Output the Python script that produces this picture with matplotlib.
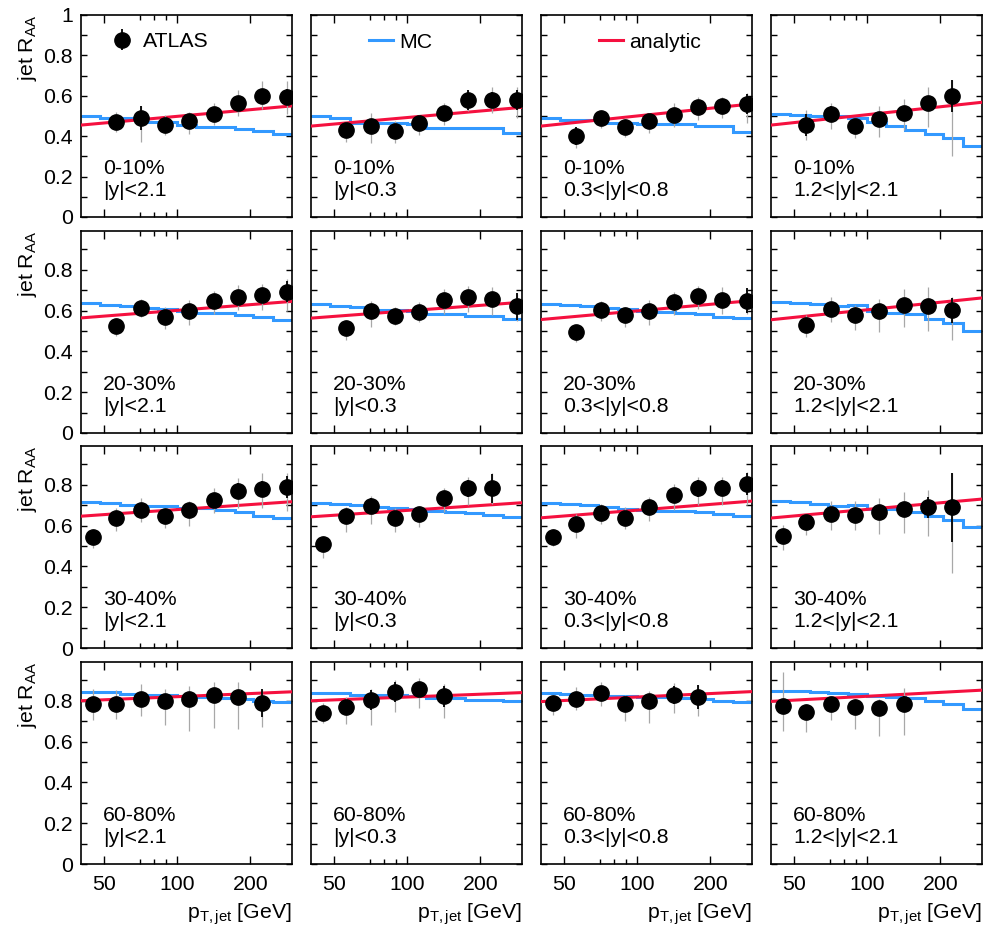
import matplotlib
matplotlib.use("Agg")
import matplotlib.pyplot as plt
from matplotlib.lines import Line2D
from matplotlib.ticker import FixedLocator, NullFormatter, FuncFormatter, MultipleLocator

plt.rcParams['font.family'] = ['Liberation Sans', 'DejaVu Sans']
plt.rcParams['mathtext.fontset'] = 'custom'
plt.rcParams['mathtext.rm'] = 'Liberation Sans'
plt.rcParams['mathtext.it'] = 'Liberation Sans:italic'

# ATLAS bin centres (GeV), first used bin per centrality row
PT = [45, 56, 71, 89, 112, 141, 178, 224, 282]
FIRST_BIN = [1, 1, 0, 0]

# MC histogram bin edges (GeV)
MC_EDGES = [40, 48, 58, 69, 83, 100, 119, 143, 172, 206, 248, 297]

# analytic curve is given at the two ends of the pT range
ANA_PT = [40, 297]

CENTRALITY = ['0-10%', '20-30%', '30-40%', '60-80%']
RAPIDITY = ['|y|<2.1', '|y|<0.3', '0.3<|y|<0.8', '1.2<|y|<2.1']

# ATLAS jet R_AA  [row = centrality][col = rapidity]
RAA = [
    [[0.47, 0.49, 0.455, 0.475, 0.51, 0.565, 0.60, 0.595],
     [0.43, 0.45, 0.425, 0.465, 0.513, 0.578, 0.58, 0.58],
     [0.40, 0.49, 0.448, 0.474, 0.505, 0.546, 0.55, 0.56],
     [0.455, 0.508, 0.45, 0.485, 0.516, 0.566, 0.60]],
    [[0.525, 0.613, 0.568, 0.60, 0.645, 0.666, 0.674, 0.693],
     [0.516, 0.60, 0.573, 0.595, 0.654, 0.665, 0.658, 0.621],
     [0.494, 0.605, 0.576, 0.598, 0.641, 0.67, 0.654, 0.649],
     [0.53, 0.608, 0.577, 0.596, 0.628, 0.621, 0.601]],
    [[0.545, 0.635, 0.676, 0.646, 0.674, 0.727, 0.769, 0.78, 0.789],
     [0.51, 0.646, 0.697, 0.635, 0.655, 0.737, 0.782, 0.782],
     [0.545, 0.607, 0.66, 0.639, 0.69, 0.752, 0.782, 0.783, 0.803],
     [0.547, 0.617, 0.658, 0.653, 0.667, 0.683, 0.689, 0.689]],
    [[0.784, 0.784, 0.811, 0.80, 0.811, 0.827, 0.82, 0.79],
     [0.739, 0.77, 0.803, 0.842, 0.858, 0.821],
     [0.788, 0.811, 0.84, 0.783, 0.80, 0.829, 0.819],
     [0.772, 0.746, 0.784, 0.77, 0.767, 0.784]],
]

STAT = [
    [[0.03, 0.06, 0.03, 0.03, 0.03, 0.03, 0.03, 0.04],
     [0.03, 0.03, 0.03, 0.03, 0.03, 0.05, 0.04, 0.05],
     [0.045, 0.03, 0.03, 0.03, 0.03, 0.03, 0.035, 0.05],
     [0.055, 0.04, 0.03, 0.03, 0.03, 0.03, 0.08]],
    [[0.03, 0.03, 0.03, 0.03, 0.03, 0.03, 0.03, 0.05],
     [0.03, 0.03, 0.03, 0.03, 0.03, 0.03, 0.03, 0.065],
     [0.03, 0.03, 0.03, 0.03, 0.03, 0.03, 0.03, 0.06],
     [0.03, 0.03, 0.03, 0.03, 0.03, 0.03, 0.06]],
    [[0.03, 0.03, 0.03, 0.03, 0.03, 0.03, 0.04, 0.04, 0.055],
     [0.03, 0.03, 0.04, 0.03, 0.03, 0.03, 0.04, 0.07],
     [0.03, 0.03, 0.03, 0.03, 0.03, 0.03, 0.04, 0.04, 0.055],
     [0.03, 0.03, 0.03, 0.03, 0.03, 0.03, 0.05, 0.168]],
    [[0.03, 0.03, 0.03, 0.03, 0.03, 0.03, 0.03, 0.07],
     [0.03, 0.03, 0.05, 0.05, 0.03, 0.05],
     [0.03, 0.03, 0.03, 0.03, 0.03, 0.045, 0.06],
     [0.03, 0.03, 0.03, 0.03, 0.03, 0.04]],
]

SYS_UP = [
    [[0.05, 0.06, 0.05, 0.045, 0.053, 0.066, 0.074, 0.078],
     [0.04, 0.063, 0.05, 0.041, 0.05, 0.053, 0.063, 0.063],
     [0.04, 0.04, 0.04, 0.04, 0.058, 0.05, 0.046, 0.053],
     [0.074, 0.054, 0.038, 0.064, 0.07, 0.08, 0.08]],
    [[0.04, 0.045, 0.05, 0.05, 0.052, 0.057, 0.057, 0.062],
     [0.037, 0.049, 0.044, 0.046, 0.052, 0.057, 0.057, 0.06],
     [0.035, 0.044, 0.04, 0.052, 0.05, 0.052, 0.06, 0.057],
     [0.046, 0.057, 0.052, 0.062, 0.08, 0.093, 0.065]],
    [[0.036, 0.052, 0.06, 0.04, 0.046, 0.057, 0.065, 0.078, 0.07],
     [0.038, 0.046, 0.047, 0.05, 0.04, 0.046, 0.057, 0.074],
     [0.036, 0.05, 0.044, 0.05, 0.05, 0.05, 0.057, 0.057, 0.062],
     [0.057, 0.036, 0.06, 0.065, 0.07, 0.082, 0.087, 0.168]],
    [[0.075, 0.07, 0.07, 0.06, 0.06, 0.065, 0.07, 0.065],
     [0.05, 0.05, 0.055, 0.06, 0.055, 0.06],
     [0.04, 0.055, 0.05, 0.045, 0.05, 0.06, 0.057],
     [0.17, 0.04, 0.04, 0.04, 0.04, 0.08]],
]

SYS_DN = [
    [[0.05, 0.12, 0.05, 0.063, 0.053, 0.066, 0.066, 0.087],
     [0.06, 0.086, 0.058, 0.058, 0.058, 0.054, 0.066, 0.09],
     [0.06, 0.05, 0.05, 0.058, 0.058, 0.066, 0.061, 0.096],
     [0.074, 0.07, 0.061, 0.087, 0.086, 0.12, 0.30]],
    [[0.05, 0.045, 0.057, 0.07, 0.062, 0.065, 0.073, 0.093],
     [0.06, 0.081, 0.046, 0.052, 0.07, 0.073, 0.081, 0.07],
     [0.05, 0.054, 0.057, 0.07, 0.065, 0.062, 0.07, 0.065],
     [0.06, 0.065, 0.073, 0.10, 0.11, 0.12, 0.146]],
    [[0.054, 0.062, 0.06, 0.057, 0.074, 0.065, 0.082, 0.093, 0.118],
     [0.07, 0.077, 0.087, 0.065, 0.06, 0.07, 0.082, 0.074],
     [0.046, 0.07, 0.054, 0.057, 0.07, 0.074, 0.082, 0.082, 0.10],
     [0.065, 0.062, 0.078, 0.074, 0.11, 0.118, 0.14, 0.32]],
    [[0.08, 0.075, 0.085, 0.12, 0.16, 0.16, 0.16, 0.12],
     [0.05, 0.085, 0.12, 0.095, 0.095, 0.105],
     [0.06, 0.055, 0.066, 0.082, 0.11, 0.087, 0.093],
     [0.12, 0.10, 0.08, 0.11, 0.14, 0.15]],
]

MC = [
    [[0.50, 0.49, 0.49, 0.47, 0.47, 0.455, 0.447, 0.447, 0.436, 0.427, 0.41],
     [0.50, 0.49, 0.465, 0.465, 0.465, 0.46, 0.44, 0.44, 0.44, 0.44, 0.415],
     [0.49, 0.48, 0.48, 0.465, 0.465, 0.46, 0.46, 0.46, 0.45, 0.45, 0.42],
     [0.51, 0.505, 0.50, 0.50, 0.49, 0.47, 0.45, 0.43, 0.41, 0.39, 0.35]],
    [[0.638, 0.625, 0.62, 0.615, 0.61, 0.60, 0.59, 0.59, 0.578, 0.567, 0.556],
     [0.633, 0.624, 0.616, 0.605, 0.605, 0.60, 0.585, 0.585, 0.575, 0.575, 0.56],
     [0.633, 0.625, 0.62, 0.615, 0.61, 0.60, 0.595, 0.59, 0.585, 0.57, 0.563],
     [0.644, 0.637, 0.633, 0.624, 0.628, 0.60, 0.59, 0.584, 0.56, 0.54, 0.502]],
    [[0.715, 0.709, 0.70, 0.695, 0.695, 0.685, 0.685, 0.675, 0.665, 0.646, 0.638],
     [0.712, 0.705, 0.70, 0.69, 0.685, 0.68, 0.67, 0.665, 0.66, 0.65, 0.642],
     [0.712, 0.705, 0.70, 0.69, 0.68, 0.675, 0.672, 0.67, 0.665, 0.655, 0.646],
     [0.719, 0.714, 0.708, 0.698, 0.703, 0.681, 0.681, 0.665, 0.646, 0.626, 0.593]],
    [[0.844, 0.841, 0.835, 0.83, 0.828, 0.825, 0.82, 0.815, 0.81, 0.80, 0.795],
     [0.84, 0.84, 0.83, 0.83, 0.83, 0.825, 0.815, 0.815, 0.805, 0.805, 0.797],
     [0.837, 0.832, 0.83, 0.825, 0.824, 0.82, 0.818, 0.815, 0.81, 0.80, 0.796],
     [0.846, 0.846, 0.841, 0.836, 0.833, 0.825, 0.82, 0.816, 0.80, 0.784, 0.762]],
]

ANALYTIC = [
    [[0.455, 0.55], [0.45, 0.543], [0.45, 0.56], [0.455, 0.568]],
    [[0.564, 0.645], [0.563, 0.641], [0.556, 0.649], [0.555, 0.662]],
    [[0.646, 0.717], [0.643, 0.712], [0.638, 0.72], [0.637, 0.73]],
    [[0.80, 0.844], [0.80, 0.84], [0.796, 0.845], [0.797, 0.852]],
]

BLUE = '#3399ff'
RED = '#f5103f'
FS = 15.3

fig = plt.figure(figsize=(9.85, 9.31), dpi=100)
W, H = 985.0, 931.0
lefts = [81, 311, 541, 771]
bottoms = [217, 433, 648, 864]

for r in range(4):
    for c in range(4):
        ax = fig.add_axes([lefts[c] / W, 1 - bottoms[r] / H, 211 / W, 202 / H])
        y = RAA[r][c]
        x = PT[FIRST_BIN[r]:FIRST_BIN[r] + len(y)]

        ax.stairs(MC[r][c], MC_EDGES, baseline=None, color=BLUE, lw=2.2, zorder=2)
        ax.plot(ANA_PT, ANALYTIC[r][c], color=RED, lw=2.2, zorder=3)
        ax.errorbar(x, y, yerr=[SYS_DN[r][c], SYS_UP[r][c]], fmt='none',
                    ecolor='#a8a8a8', elinewidth=0.9, zorder=4)
        data = ax.errorbar(x, y, yerr=STAT[r][c], fmt='o', color='black',
                           ms=11, elinewidth=1.3, capsize=0, zorder=5)

        ax.set_xscale('log')
        ax.set_xlim(40, 297)
        ax.set_ylim(0, 1.0 if r == 0 else 0.99)
        ax.xaxis.set_major_locator(FixedLocator([50, 100, 200]))
        ax.xaxis.set_minor_locator(FixedLocator([70, 80, 90]))
        ax.xaxis.set_minor_formatter(NullFormatter())
        ax.yaxis.set_major_locator(FixedLocator([0, 0.2, 0.4, 0.6, 0.8, 1.0]))
        ax.yaxis.set_minor_locator(MultipleLocator(0.1))
        if r == 3:
            ax.xaxis.set_major_formatter(FuncFormatter(lambda v, p: '%d' % v))
            ax.set_xlabel('p$_{\\mathrm{T,jet}}$ [GeV]', loc='right', fontsize=FS, labelpad=5)
        else:
            ax.xaxis.set_major_formatter(NullFormatter())
        if c == 0:
            ax.yaxis.set_major_formatter(FuncFormatter(lambda v, p: '%g' % v))
            ax.set_ylabel('jet R$_{\\mathrm{AA}}$', loc='top', fontsize=FS, labelpad=3)
        else:
            ax.yaxis.set_major_formatter(NullFormatter())

        ax.tick_params(which='both', direction='in', top=True, right=True,
                       labelsize=FS, width=1.0)
        ax.tick_params(axis='x', which='major', length=6, pad=8)
        ax.tick_params(axis='x', which='minor', length=3.5)
        ax.tick_params(axis='y', which='major', length=4.5, pad=6)
        ax.tick_params(axis='y', which='minor', length=4.5)
        for s in ax.spines.values():
            s.set_linewidth(1.2)

        ax.text(0.106, 0.212, CENTRALITY[r], transform=ax.transAxes, fontsize=FS)
        ax.text(0.106, 0.105, RAPIDITY[c], transform=ax.transAxes, fontsize=FS)

        if r == 0 and c == 0:
            ax.legend([data], ['ATLAS'], loc='center left', bbox_to_anchor=(0.143, 0.868),
                      frameon=False, fontsize=FS, handlelength=1.0, handletextpad=0.5,
                      borderpad=0, borderaxespad=0)
        if r == 0 and c == 1:
            ax.legend([Line2D([], [], color=BLUE, lw=2.2)], ['MC'], loc='center left',
                      bbox_to_anchor=(0.276, 0.865), frameon=False, fontsize=FS,
                      handlelength=1.13, handletextpad=0.28, borderpad=0, borderaxespad=0)
        if r == 0 and c == 2:
            ax.legend([Line2D([], [], color=RED, lw=2.2)], ['analytic'], loc='center left',
                      bbox_to_anchor=(0.275, 0.865), frameon=False, fontsize=FS,
                      handlelength=1.13, handletextpad=0.28, borderpad=0, borderaxespad=0)

fig.savefig('out.png', dpi=100)
